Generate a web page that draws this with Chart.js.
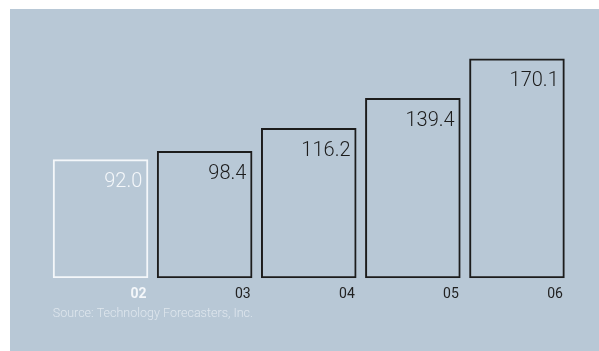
<!DOCTYPE html>
<html>
<head>
<meta charset="utf-8">
<script src="https://cdn.jsdelivr.net/npm/chart.js@4"></script>
<style>
html,body{margin:0;padding:0;background:#ffffff;}
#wrap{position:relative;width:599px;height:351px;}
</style>
</head>
<body>
<div id="wrap"><canvas id="c" width="599" height="351"></canvas></div>
<script>
const categories = ['02', '03', '04', '05', '06'];
const revenue = [92.0, 98.4, 116.2, 139.4, 170.1];
const valueLabels = ['92.0', '98.4', '116.2', '139.4', '170.1'];
const sourceNote = 'Source: Technology Forecasters, Inc.';

const PANEL = '#b8c8d6';
const INK = '#1c1c1c';
const WHITE = '#f4f7fa';

const panelPlugin = {
  id: 'panel',
  beforeDraw(chart) {
    const ctx = chart.ctx;
    ctx.save();
    ctx.fillStyle = PANEL;
    ctx.fillRect(10, 9, chart.width - 10, chart.height - 9);
    ctx.restore();
  }
};

const valuePlugin = {
  id: 'values',
  afterDatasetsDraw(chart) {
    const ctx = chart.ctx;
    const meta = chart.getDatasetMeta(0);
    ctx.save();
    ctx.font = '300 20px Roboto';
    ctx.textAlign = 'right';
    ctx.textBaseline = 'alphabetic';
    meta.data.forEach((bar, i) => {
      const right = bar.x + bar.width / 2 - 6;
      ctx.fillStyle = i === 0 ? WHITE : INK;
      ctx.fillText(valueLabels[i], right, bar.y + 27.5);
    });
    ctx.font = '300 12.5px Roboto';
    ctx.textAlign = 'left';
    ctx.textBaseline = 'middle';
    ctx.fillStyle = '#dfe7ee';
    const first = meta.data[0];
    ctx.fillText(sourceNote, first.x - first.width / 2, 313.5);
    ctx.restore();
  }
};

new Chart(document.getElementById('c'), {
  type: 'bar',
  data: {
    labels: categories,
    datasets: [{
      data: revenue,
      backgroundColor: 'rgba(0,0,0,0)',
      borderColor: (ctx) => ctx.dataIndex === 0 ? WHITE : INK,
      borderWidth: 2,
      borderSkipped: false,
      barPercentage: 0.918,
      categoryPercentage: 1.0
    }]
  },
  options: {
    responsive: false,
    animation: false,
    devicePixelRatio: 1,
    layout: { padding: { left: 48.5, right: 30, top: 45.6, bottom: 48 } },
    plugins: { legend: { display: false }, tooltip: { enabled: false } },
    scales: {
      y: { display: false, min: 0, max: 180 },
      x: {
        grid: { display: false },
        border: { display: false },
        ticks: {
          align: 'end',
          labelOffset: 46,
          padding: 0,
          color: (ctx) => ctx.index === 0 ? WHITE : '#222222',
          font: (ctx) => ({ family: 'Roboto', size: 14, weight: ctx.index === 0 ? 'bold' : 'normal' })
        }
      }
    }
  },
  plugins: [panelPlugin, valuePlugin]
});
</script>
</body>
</html>
